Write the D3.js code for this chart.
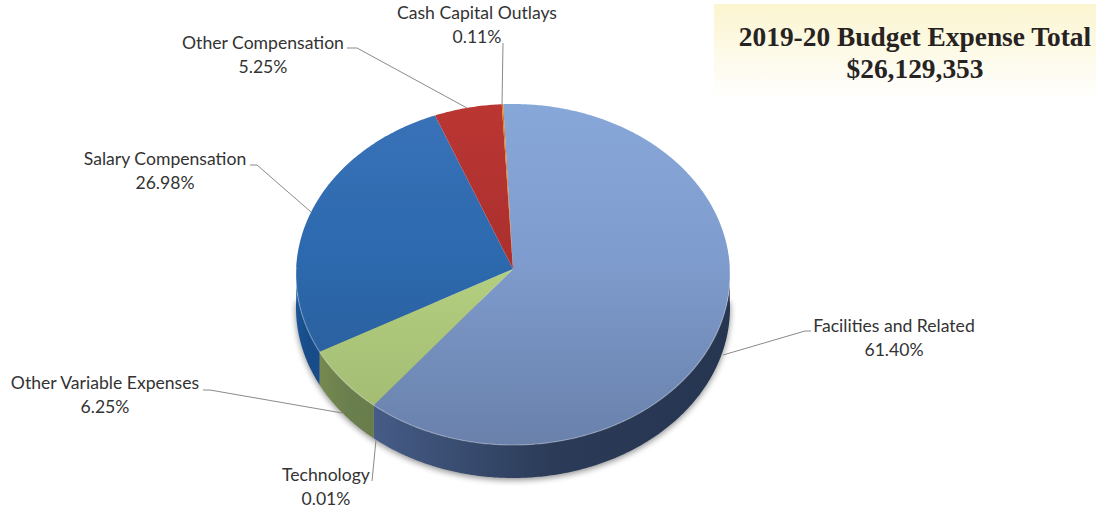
<!DOCTYPE html>
<html>
<head>
<meta charset="utf-8">
<script src="https://cdn.jsdelivr.net/npm/d3@7"></script>
<style>
html,body{margin:0;padding:0;background:#fff;overflow:hidden}
svg{display:block}
</style>
</head>
<body>
<div id="chart"></div>
<script>
var categories = ["Facilities and Related","Technology","Other Variable Expenses","Salary Compensation","Other Compensation","Cash Capital Outlays"];
var shares = [61.40,0.01,6.25,26.98,5.25,0.11];
var titleLines = ["2019-20 Budget Expense Total","$26,129,353"];

// gradient stops per slice, same order as categories
var topColors = [["#88a7d9","#7f9cce","#6981ab"],["#a4bb72","#a4bb72","#a4bb72"],["#bcd98b","#b4d080","#9fb870"],["#3a72b8","#2c69ae","#2a5a92"],["#bb3633","#ab302e","#982a29"],["#e07b1f","#d8751c","#d0701a"]];
var wallColors = [["#465c87","#2b3b58","#263550"],["#6d8250","#6d8250","#6d8250"],["#76894f","#6a7f4e","#687c4c"],["#1a5596","#174c88","#174c88"],["#8a2826","#8a2826","#8a2826"],["#b8641a","#b8641a","#b8641a"]];

// label layout: centre x, first baseline y, leader polyline
var labelLayout = [
  {x:894,y:332,leader:[[811,331],[805,331],[723,355]]},
  {x:326,y:481,leader:[[372,481],[376,440]]},
  {x:105,y:389,leader:[[203,390],[210,390],[342,413]]},
  {x:165,y:165,leader:[[250,165],[257,165],[311,212]]},
  {x:263,y:49,leader:[[347,48],[357,48],[467,108]]},
  {x:477,y:19,leader:[[503,43],[502,105]]}
];

var W = 1096, H = 512;
var cx = 513, ey = 274.5, rx = 217, ry = 170.5, depth = 33;
var apex = [513,269];
var rot = -2.7*Math.PI/180;
var warp = 0.044; //the tilted view pushes the left side slices round a little

var svg = d3.select("#chart").append("svg").attr("width",W).attr("height",H);
var defs = svg.append("defs");

var pie = d3.pie().sort(null).startAngle(rot).endAngle(rot+2*Math.PI);
var arcs = pie(shares);
var pct = d3.format(".2f");

function rim(a,off){
    var b = a-warp*Math.sin(a);
    return [cx+rx*Math.sin(b), ey-ry*Math.cos(b)+(off||0)];
}
function samples(a0,a1){
    var n = Math.max(2,Math.ceil((a1-a0)/0.01));
    return d3.range(n+1).map(function(i){return a0+(a1-a0)*i/n;});
}
var line = d3.line();

// title box
var boxGrad = defs.append("linearGradient").attr("id","boxGrad").attr("x1","0%").attr("y1","0%").attr("x2","0%").attr("y2","100%");
boxGrad.append("stop").attr("offset","0%").attr("stop-color","#fbf5cf");
boxGrad.append("stop").attr("offset","100%").attr("stop-color","#ffffff");
svg.append("rect").attr("x",714).attr("y",4).attr("width",382).attr("height",96).attr("fill","url(#boxGrad)");

svg.selectAll("text.title").data(titleLines).enter().append("text")
    .attr("class","title")
    .attr("x",915).attr("y",function(d,i){return 46+i*32;})
    .attr("text-anchor","middle")
    .attr("font-family","Liberation Serif")
    .attr("font-weight","bold")
    .attr("font-size",27.4)
    .attr("fill","#262322")
    .text(function(d){return d;});

// soft shadow under the pie
defs.append("filter").attr("id","blur").attr("x","-10%").attr("y","-10%").attr("width","120%").attr("height","120%")
    .append("feGaussianBlur").attr("stdDeviation",3);
var lower = samples(Math.PI/2,3*Math.PI/2);
svg.append("path")
    .attr("d",line(lower.map(function(a){return rim(a,depth+2);})))
    .attr("fill","#000").attr("opacity",0.45).attr("filter","url(#blur)");

// walls
var walls = svg.append("g");
arcs.forEach(function(d,i){
    var a0 = Math.max(d.startAngle,Math.PI/2), a1 = Math.min(d.endAngle,3*Math.PI/2);
    if(a1<=a0)return;
    var pts = samples(a0,a1);
    var x0 = rim(a1)[0], x1 = rim(a0)[0];
    var g = defs.append("linearGradient").attr("id","wall"+i).attr("gradientUnits","userSpaceOnUse")
        .attr("x1",Math.min(x0,x1)).attr("x2",Math.max(x0,x1)).attr("y1",0).attr("y2",0);
    wallColors[i].forEach(function(c,j){
        g.append("stop").attr("offset",[0,0.5,1][j]).attr("stop-color",c);
    });
    var path = pts.map(function(a){return rim(a);}).concat(pts.slice().reverse().map(function(a){return rim(a,depth);}));
    walls.append("path").attr("d",line(path)+"Z").attr("fill","url(#wall"+i+")");
});

// top face
var faces = svg.append("g");
arcs.forEach(function(d,i){
    var g = defs.append("linearGradient").attr("id","top"+i).attr("gradientUnits","userSpaceOnUse")
        .attr("x1",0).attr("x2",0).attr("y1",ey-ry).attr("y2",ey+ry);
    topColors[i].forEach(function(c,j){
        g.append("stop").attr("offset",[0,0.45,1][j]).attr("stop-color",c);
    });
    var path = [apex].concat(samples(d.startAngle,d.endAngle).map(function(a){return rim(a);}));
    faces.append("path").attr("d",line(path)+"Z").attr("fill","url(#top"+i+")");
});
// light edge along the front rim
svg.append("path").attr("d",line(lower.map(function(a){return rim(a);})))
    .attr("fill","none").attr("stroke","#fff").attr("stroke-opacity",0.3).attr("stroke-width",1.2);

// leaders
svg.selectAll("path.leader").data(labelLayout).enter().append("path")
    .attr("class","leader")
    .attr("d",function(d){return line(d.leader);})
    .attr("fill","none").attr("stroke","#8a8a8a").attr("stroke-width",1);

// labels
var labels = svg.selectAll("g.label").data(categories).enter().append("g").attr("class","label");
labels.append("text")
    .attr("x",function(d,i){return labelLayout[i].x;})
    .attr("y",function(d,i){return labelLayout[i].y;})
    .text(function(d){return d;});
labels.append("text")
    .attr("x",function(d,i){return labelLayout[i].x;})
    .attr("y",function(d,i){return labelLayout[i].y+24;})
    .text(function(d,i){return pct(shares[i])+"%";});
labels.selectAll("text")
    .attr("text-anchor","middle")
    .attr("font-family","Lato")
    .attr("font-size",17.6)
    .attr("fill","#333");
</script>
</body>
</html>
